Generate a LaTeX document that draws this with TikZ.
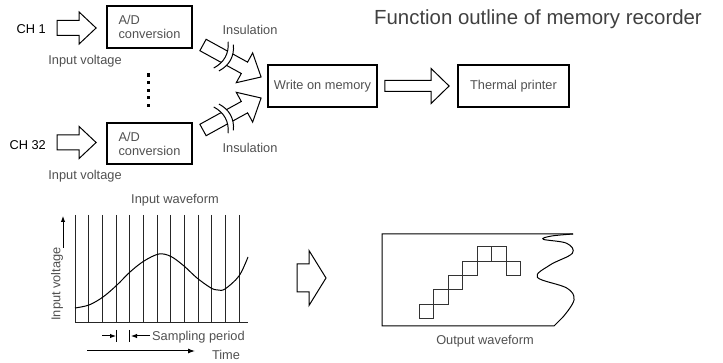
\documentclass[tikz,border=0pt]{standalone}
\usepackage{fontspec}
\setmainfont{Liberation Sans}
\usetikzlibrary{calc,arrows.meta}

\definecolor{txtgray}{HTML}{505050}
\definecolor{titlegray}{HTML}{404040}

% frame of a straight block arrow: origin at the tail, x axis towards the tip
\newcommand\arrowframe[2]{%
  \path let \p1=(#1), \p2=(#2) in \pgfextra{%
    \pgfmathsetmacro\baang{atan2(\y2-\y1,\x2-\x1)}%
    \pgfmathsetmacro\balen{veclen(\x2-\x1,\y2-\y1)}%
    \xdef\baang{\baang}\xdef\balen{\balen}\xdef\bax{\x1}\xdef\bay{\y1}};}

% hollow block arrow: tail, tip, head length, body half width, head half width
\newcommand\blockarr[5]{%
  \arrowframe{#1}{#2}%
  \begin{scope}[shift={(\bax,\bay)}, rotate=\baang, x=1pt, y=1pt]
    \draw[blockshape] (0,-#4) -- ({\balen-#3},-#4) -- ({\balen-#3},-#5) -- (\balen,0)
      -- ({\balen-#3},#5) -- ({\balen-#3},#4) -- (0,#4) -- cycle;
  \end{scope}}

% block arrow interrupted by an insulation break at distance #6 from the tail
\newcommand\insarr[6]{%
  \blockarr{#1}{#2}{#3}{#4}{#5}%
  \begin{scope}[shift={(\bax,\bay)}, rotate=\baang, x=1pt, y=1pt]
    \fill[white] (#6-3.5,-15) .. controls (#6+3,-5) and (#6+3,5) .. (#6-3.5,15)
      -- (#6+2.5,15) .. controls (#6+9,5) and (#6+9,-5) .. (#6+2.5,-15) -- cycle;
    \draw[thinline] (#6-3.5,-15) .. controls (#6+3,-5) and (#6+3,5) .. (#6-3.5,15);
    \draw[thinline] (#6+2.5,-15) .. controls (#6+9,-5) and (#6+9,5) .. (#6+2.5,15);
  \end{scope}}

\begin{document}
\begin{tikzpicture}[x=1pt,y=-1pt,
  lbl/.style={text=txtgray, font=\fontsize{12.8}{14}\selectfont, inner sep=0pt},
  chlbl/.style={lbl, text=black},
  box/.style={draw=black, line width=1.8pt, text=txtgray,
    font=\fontsize{12.8}{14}\selectfont, align=left, inner sep=0pt},
  blockshape/.style={draw=black, fill=white, line width=1pt, line join=miter},
  thinline/.style={draw=black, line width=1pt},
  gridline/.style={draw=black!85, line width=0.9pt},
  sq/.style={draw=black!80, line width=0.9pt}]

\useasboundingbox (0,0) rectangle (723,363);

% ---- title
\node[font=\fontsize{20.4}{24}\selectfont, text=titlegray, inner sep=0pt] (title) at (538,19) {Function outline of memory recorder};

% ---- channel inputs and converters
\node[box, minimum width=85, minimum height=42] (ad1) at (149.5,27) {A/D\\conversion};
\node[box, minimum width=85, minimum height=41] (ad2) at (149.5,143.5) {A/D\\conversion};
\node[chlbl, anchor=east] (ch1) at (46,29.5) {CH 1};
\node[chlbl, anchor=east] (ch32) at (46,145.5) {CH 32};
\node[lbl] (iv1) at (85,61) {Input voltage};
\node[lbl] (iv2) at (85,176) {Input voltage};

\blockarr{$(ad1.west)+(-49,1)$}{$(ad1.west)+(-10,1)$}{17}{7.5}{16}
\blockarr{$(ad2.west)+(-49,-1)$}{$(ad2.west)+(-10,-1)$}{17}{7.5}{16}

% channels in between
\foreach \k in {0,...,4}
  \fill ({148.5-1.65},{75+7.6*\k-1.65}) rectangle +(3.3,3.3);

% ---- memory and printer
\node[box, minimum width=109, minimum height=42, align=center] (write) at (322.5,86) {Write on memory};
\node[box, minimum width=111, minimum height=42, align=center] (printer) at (513.5,86) {Thermal printer};
\blockarr{$(write.east)+(7,0)$}{$(printer.west)+(-8,0)$}{18}{5.5}{17.5}

% insulated transfer to the memory
\coordinate (ins1a) at (203,45);
\coordinate (ins2a) at (203,130);
\insarr{ins1a}{$(write.west)+(-6,-9)$}{19}{6.5}{17}{24}
\insarr{ins2a}{$(write.west)+(-6,12)$}{19}{6.5}{17}{24}
\node[lbl] (insl1) at (250,30) {Insulation};
\node[lbl] (insl2) at (250,148) {Insulation};

% ---- input waveform with sampling grid
\node[lbl] (inwave) at (175,200) {Input waveform};
\foreach \i in {0,...,12}
  \draw[gridline] ({75+13.67*\i},215) -- ({75+13.67*\i},322);
\draw[gridline] (75,322) -- (248,322);
\draw[thinline] plot[smooth, tension=0.55] coordinates {(75,308) (89,305) (103,297) (117,285)
  (130,272) (144,261) (159,254) (171,256.5) (184,266) (197,278) (211,288) (218,290)
  (225,289) (239,276) (248,257)};

\node[lbl, rotate=90] (ylab) at (57,284) {Input voltage};
\coordinate (yarr0) at (63,248);
\coordinate (yarr1) at (63,216);
\draw[thinline, -{Latex[length=6,width=4.5]}] (yarr0) -- (yarr1);

% sampling period
\coordinate (sp0) at (102,336);
\coordinate (sp1) at (116,336);
\coordinate (sp2) at (150,336);
\coordinate (sp3) at (131,336);
\draw[thinline, -{Latex[length=6,width=4.5]}] (sp0) -- (sp1);
\draw[thinline] (116,330) -- (116,342);
\draw[thinline] (129.7,330) -- (129.7,342);
\draw[thinline, -{Latex[length=6,width=4.5]}] (sp2) -- (sp3);
\node[lbl, anchor=west] (splab) at (152,337) {Sampling period};

\coordinate (t0) at (87,351);
\coordinate (t1) at (195,351);
\draw[thinline, -{Latex[length=7,width=5]}] (t0) -- (t1);
\node[lbl] (tlab) at (226,355) {Time};

% ---- conversion arrow
\blockarr{297,278}{326,278}{17}{14}{27.5}

% ---- output waveform on paper
\draw[thinline] (573,234) -- (382,234) -- (382,326) -- (554,326) -- (563,317);
\draw[thinline] plot[smooth, tension=0.6] coordinates {(563,317) (574,300) (566.7,288)
  (537.3,277.3) (550,265) (572.3,253.3) (566.7,243.3) (543.3,239.3) (551.7,236) (573,234)};
\foreach \i/\j in {0/0,1/1,2/2,3/3,4/4,5/4,6/3}
  \draw[sq] ({419.3+14.5*\i},{304.3-14.4*\j}) rectangle +(14.5,14.4);
\node[lbl] (outw) at (485,341) {Output waveform};

\end{tikzpicture}
\end{document}
